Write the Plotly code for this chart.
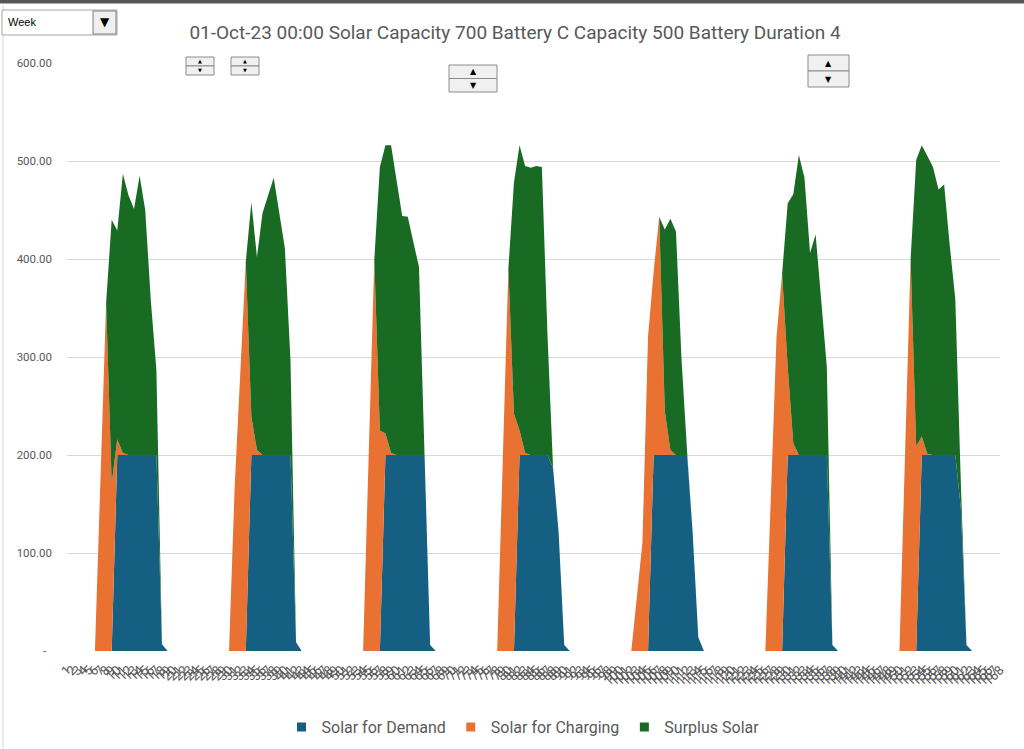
import plotly.graph_objects as go

# hourly index for one week (Excel category labels 1..168)
HOURS = list(range(1, 169))
HOUR_LABELS = [str(h) for h in HOURS]

# Solar for Demand, one list per day (24 hours each)
DEMAND_D1 = [0, 0, 0, 0, 0, 0, 0, 0, 0, 200, 200, 200, 200, 200, 200, 200, 200, 7, 0, 0, 0, 0, 0, 0]
DEMAND_D2 = [0, 0, 0, 0, 0, 0, 0, 0, 0, 200, 200, 200, 200, 200, 200, 200, 200, 9, 0, 0, 0, 0, 0, 0]
DEMAND_D3 = [0, 0, 0, 0, 0, 0, 0, 0, 0, 200, 200, 200, 200, 200, 200, 200, 200, 6, 0, 0, 0, 0, 0, 0]
DEMAND_D4 = [0, 0, 0, 0, 0, 0, 0, 0, 0, 200, 200, 200, 200, 200, 200, 187, 121, 6, 0, 0, 0, 0, 0, 0]
DEMAND_D5 = [0, 0, 0, 0, 0, 0, 0, 0, 0, 200, 200, 200, 200, 200, 200, 200, 120, 14, 0, 0, 0, 0, 0, 0]
DEMAND_D6 = [0, 0, 0, 0, 0, 0, 0, 0, 0, 200, 200, 200, 200, 200, 200, 200, 200, 6, 0, 0, 0, 0, 0, 0]
DEMAND_D7 = [0, 0, 0, 0, 0, 0, 0, 0, 0, 200, 200, 200, 200, 200, 200, 200, 145, 6, 0, 0, 0, 0, 0, 0]

# Solar for Charging
CHARGE_D1 = [0, 0, 0, 0, 0, 0, 177, 355, 171, 16, 2, 0, 0, 0, 0, 0, 0, 0, 0, 0, 0, 0, 0, 0]
CHARGE_D2 = [0, 0, 0, 0, 0, 0, 166, 282, 397, 39, 5, 0, 0, 0, 0, 0, 0, 0, 0, 0, 0, 0, 0, 0]
CHARGE_D3 = [0, 0, 0, 0, 0, 0, 200, 399, 225, 22, 2, 0, 0, 0, 0, 0, 0, 0, 0, 0, 0, 0, 0, 0]
CHARGE_D4 = [0, 0, 0, 0, 0, 0, 195, 390, 242, 25, 2, 0, 0, 0, 0, 0, 0, 0, 0, 0, 0, 0, 0, 0]
CHARGE_D5 = [0, 0, 0, 0, 0, 0, 55, 111, 321, 187, 243, 45, 5, 0, 0, 0, 0, 0, 0, 0, 0, 0, 0, 0]
CHARGE_D6 = [0, 0, 0, 0, 0, 0, 160, 321, 385, 90, 12, 0, 0, 0, 0, 0, 0, 0, 0, 0, 0, 0, 0, 0]
CHARGE_D7 = [0, 0, 0, 0, 0, 0, 200, 400, 209, 19, 1, 0, 0, 0, 0, 0, 0, 0, 0, 0, 0, 0, 0, 0]

# Surplus Solar
SURPLUS_D1 = [0, 0, 0, 0, 0, 0, 0, 0, 269, 213, 285, 265, 251, 285, 250, 158, 87, 0, 0, 0, 0, 0, 0, 0]
SURPLUS_D2 = [0, 0, 0, 0, 0, 0, 0, 0, 0, 219, 197, 247, 265, 283, 247, 211, 97, 0, 0, 0, 0, 0, 0, 0]
SURPLUS_D3 = [0, 0, 0, 0, 0, 0, 0, 0, 269, 294, 314, 280, 244, 243, 217, 192, 0, 0, 0, 0, 0, 0, 0, 0]
SURPLUS_D4 = [0, 0, 0, 0, 0, 0, 0, 0, 236, 291, 293, 293, 295, 294, 123, 0, 0, 0, 0, 0, 0, 0, 0, 0]
SURPLUS_D5 = [0, 0, 0, 0, 0, 0, 0, 0, 0, 0, 0, 185, 236, 228, 97, 3, 0, 0, 0, 0, 0, 0, 0, 0]
SURPLUS_D6 = [0, 0, 0, 0, 0, 0, 0, 0, 0, 167, 254, 306, 283, 206, 225, 158, 90, 0, 0, 0, 0, 0, 0, 0]
SURPLUS_D7 = [0, 0, 0, 0, 0, 0, 0, 0, 292, 297, 304, 294, 271, 276, 214, 159, 25, 0, 0, 0, 0, 0, 0, 0]

SOLAR_DEMAND = DEMAND_D1 + DEMAND_D2 + DEMAND_D3 + DEMAND_D4 + DEMAND_D5 + DEMAND_D6 + DEMAND_D7
SOLAR_CHARGE = CHARGE_D1 + CHARGE_D2 + CHARGE_D3 + CHARGE_D4 + CHARGE_D5 + CHARGE_D6 + CHARGE_D7
SURPLUS = SURPLUS_D1 + SURPLUS_D2 + SURPLUS_D3 + SURPLUS_D4 + SURPLUS_D5 + SURPLUS_D6 + SURPLUS_D7

Y_TICKS = [0, 100, 200, 300, 400, 500, 600]
Y_LABELS = ["-\u00a0\u00a0", "100.00", "200.00", "300.00", "400.00", "500.00", "600.00"]

TITLE = "01-Oct-23 00:00 Solar Capacity 700 Battery C Capacity 500 Battery Duration 4"

BLUE = "#156082"
ORANGE = "#E97132"
GREEN = "#196B24"
GREY_TXT = "#595959"

SERIES = [
    ("Solar for Demand", SOLAR_DEMAND, BLUE),
    ("Solar for Charging", SOLAR_CHARGE, ORANGE),
    ("Surplus Solar", SURPLUS, GREEN),
]

# plot area in page pixels
L, R, T, B = 67, 1000, 63, 651


def px(x):
    return (x - L) / (R - L)


def py(y):
    return (B - y) / (B - T)


fig = go.Figure()
for name, vals, color in SERIES:
    fig.add_trace(go.Scatter(
        x=HOURS, y=vals, name=name, mode="none",
        stackgroup="solar", fillcolor=color,
        showlegend=False, hoverinfo="skip",
    ))
# square legend keys like Excel
for name, _, color in SERIES:
    fig.add_trace(go.Scatter(
        x=[None], y=[None], mode="markers", name=name,
        marker=dict(symbol="square", size=9, color=color),
    ))

shapes = []
annotations = []

# window chrome: dark strip on top, thin border left
shapes.append(dict(type="rect", xref="paper", yref="paper",
                   x0=px(0), x1=px(1024), y0=py(0), y1=py(3.5),
                   fillcolor="#575757", line=dict(width=0), layer="above"))
shapes.append(dict(type="line", xref="paper", yref="paper",
                   x0=px(3), x1=px(3), y0=py(5), y1=py(749),
                   line=dict(color="#D9D9D9", width=1)))

# "Week" drop-down
shapes.append(dict(type="rect", xref="paper", yref="paper",
                   x0=px(2), x1=px(117), y0=py(10), y1=py(35),
                   fillcolor="white", line=dict(color="#A6A6A6", width=1)))
shapes.append(dict(type="rect", xref="paper", yref="paper",
                   x0=px(93), x1=px(116), y0=py(11), y1=py(34),
                   fillcolor="#F0F0F0", line=dict(color="#7F7F7F", width=1)))
annotations.append(dict(xref="paper", yref="paper", x=px(6), y=py(22.5),
                        text="Week", showarrow=False, xanchor="left", yanchor="middle",
                        font=dict(family="Liberation Sans", size=11, color="black")))
annotations.append(dict(xref="paper", yref="paper", x=px(104.5), y=py(22.5),
                        text="\u25BC", showarrow=False, xanchor="center", yanchor="middle",
                        font=dict(family="DejaVu Sans", size=12, color="black")))

# spin buttons (x0, y0, x1, y1, glyph size)
SPINNERS = [
    (186, 57, 214, 75, 5),
    (231, 57, 259, 75, 5),
    (449, 65, 497, 92, 8),
    (808, 55, 849, 87, 8),
]
for x0, y0, x1, y1, gs in SPINNERS:
    ym = (y0 + y1) / 2
    for a, b in ((y0, ym), (ym, y1)):
        shapes.append(dict(type="rect", xref="paper", yref="paper",
                           x0=px(x0), x1=px(x1), y0=py(a), y1=py(b),
                           fillcolor="#F0F0F0", line=dict(color="#8C8C8C", width=1),
                           layer="above"))
    annotations.append(dict(xref="paper", yref="paper", x=px((x0 + x1) / 2), y=py((y0 + ym) / 2),
                            text="\u25B2", showarrow=False, xanchor="center", yanchor="middle",
                            font=dict(family="DejaVu Sans", size=gs, color="black")))
    annotations.append(dict(xref="paper", yref="paper", x=px((x0 + x1) / 2), y=py((ym + y1) / 2),
                            text="\u25BC", showarrow=False, xanchor="center", yanchor="middle",
                            font=dict(family="DejaVu Sans", size=gs, color="black")))

fig.update_layout(
    width=1024, height=749, autosize=False,
    margin=dict(l=L, r=1024 - R, t=T, b=749 - B, autoexpand=False),
    paper_bgcolor="white", plot_bgcolor="white",
    font=dict(family="Roboto", color=GREY_TXT, size=11),
    title=dict(text=TITLE, x=0.503, xanchor="center", y=1 - 32 / 749, yanchor="middle",
               font=dict(size=19, color=GREY_TXT)),
    legend=dict(orientation="h", x=px(523), xanchor="center", y=py(727), yanchor="middle",
                font=dict(size=16, color=GREY_TXT), itemwidth=30, traceorder="normal",
                bgcolor="rgba(0,0,0,0)"),
    showlegend=True,
    shapes=shapes,
    annotations=annotations,
)
fig.update_xaxes(
    range=[1, 168], tickmode="array", tickvals=HOURS, ticktext=HOUR_LABELS,
    tickangle=-45, tickfont=dict(size=13, color=GREY_TXT), automargin=False,
    showgrid=False, zeroline=False, showline=False, ticks="", ticklabelstandoff=8,
)
fig.update_yaxes(
    range=[0, 600], tickmode="array", tickvals=Y_TICKS, ticktext=Y_LABELS, automargin=False,
    showgrid=True, gridcolor="#D9D9D9", gridwidth=1, zeroline=False, showline=False,
    tickfont=dict(size=11.5, color=GREY_TXT), ticklabelstandoff=14,
)

# drop the default 8px page margin so the figure sits at the window corner
fig.write_html("out.html", config={"displayModeBar": False},
               post_script="document.body.style.margin='0';")
